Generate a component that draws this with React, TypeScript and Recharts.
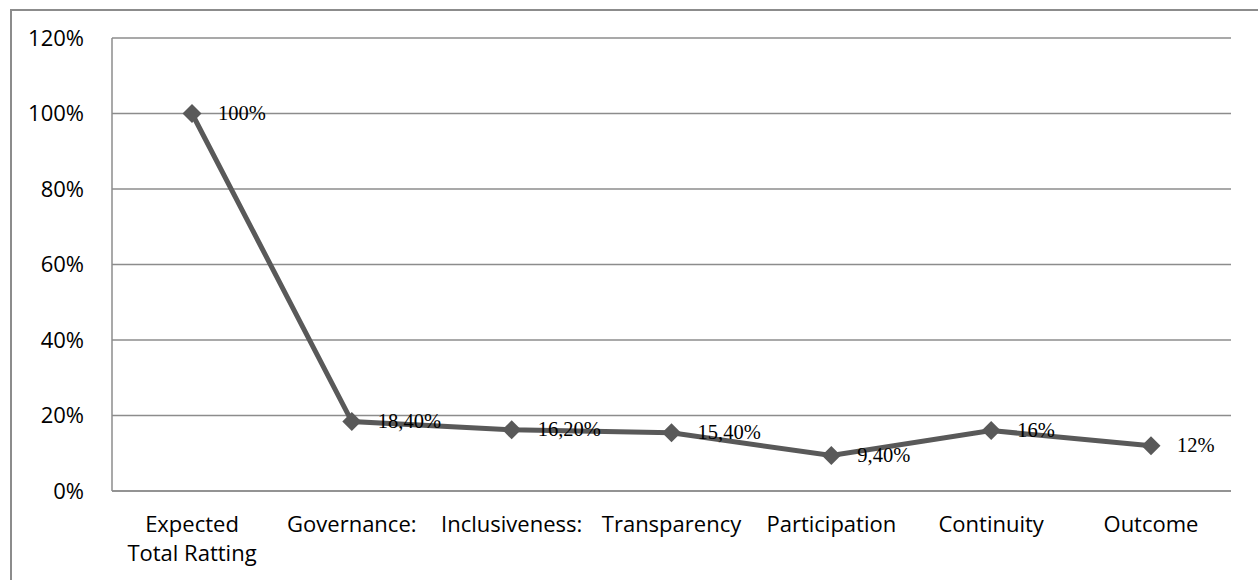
import { CartesianGrid, LabelList, Line, LineChart, XAxis, YAxis } from 'recharts';

const categories = [
  'Expected\nTotal Ratting',
  'Governance:',
  'Inclusiveness:',
  'Transparency',
  'Participation',
  'Continuity',
  'Outcome',
];
const ratings = [1.0, 0.184, 0.162, 0.154, 0.094, 0.16, 0.12];
const ratingLabels = ['100%', '18,40%', '16,20%', '15,40%', '9,40%', '16%', '12%'];
const yTicks = [0, 0.2, 0.4, 0.6, 0.8, 1.0, 1.2];

const data = categories.map((c, i) => ({ name: c, value: ratings[i], label: ratingLabels[i] }));

const LINE = '#595959';
const GRID = '#8c8c8c';
const SANS = '"Open Sans", "Liberation Sans", sans-serif';

function Diamond(props: any) {
  const { cx, cy } = props;
  if (cx == null || cy == null) return null;
  const r = 9.5;
  return (
    <polygon
      points={`${cx},${cy - r} ${cx + r},${cy} ${cx},${cy + r} ${cx - r},${cy}`}
      fill={LINE}
      stroke="none"
    />
  );
}

function XTick({ x, y, payload }: any) {
  const lines = String(payload.value).split('\n');
  return (
    <text x={x} y={y} textAnchor="middle" fill="#000" fontFamily={SANS} fontSize={22}>
      {lines.map((l, i) => (
        <tspan key={i} x={x} dy={i === 0 ? 33 : 29}>
          {l}
        </tspan>
      ))}
    </text>
  );
}

function PointLabel(props: any) {
  const { x, y, value } = props;
  return (
    <text
      x={x + 26}
      y={y - 1}
      dominantBaseline="central"
      textAnchor="start"
      fill="#000"
      fontFamily='"Liberation Serif", "Times New Roman", serif'
      fontSize={20.5}
    >
      {value}
    </text>
  );
}

export default function App() {
  return (
    <div
      style={{
        position: 'absolute',
        left: 10,
        top: 9,
        width: 1246,
        height: 580,
        borderTop: '2px solid #8c8c8c',
        borderLeft: '2px solid #8c8c8c',
        borderRight: '2px solid #8c8c8c',
        background: '#fff',
      }}
    >
      <LineChart
        width={1246}
        height={571}
        data={data}
        margin={{ top: 27, right: 27, bottom: 31, left: 20 }}
      >
        <CartesianGrid vertical={false} stroke={GRID} strokeWidth={1.5} />
        <XAxis
          dataKey="name"
          interval={0}
          padding={{ left: 80, right: 80 }}
          tickLine={false}
          axisLine={{ stroke: GRID, strokeWidth: 1.5 }}
          tick={<XTick />}
          height={60}
        />
        <YAxis
          domain={[0, 1.2]}
          ticks={yTicks}
          tickFormatter={(v: number) => `${Math.round(v * 100)}%`}
          tickLine={false}
          axisLine={{ stroke: GRID, strokeWidth: 1.5 }}
          tickMargin={22}
          width={80}
          tick={{ fill: '#000', fontSize: 22, fontFamily: SANS }}
        />
        <Line
          type="linear"
          dataKey="value"
          stroke={LINE}
          strokeWidth={5}
          dot={<Diamond />}
          activeDot={false}
          isAnimationActive={false}
        >
          <LabelList dataKey="label" content={<PointLabel />} />
        </Line>
      </LineChart>
    </div>
  );
}
